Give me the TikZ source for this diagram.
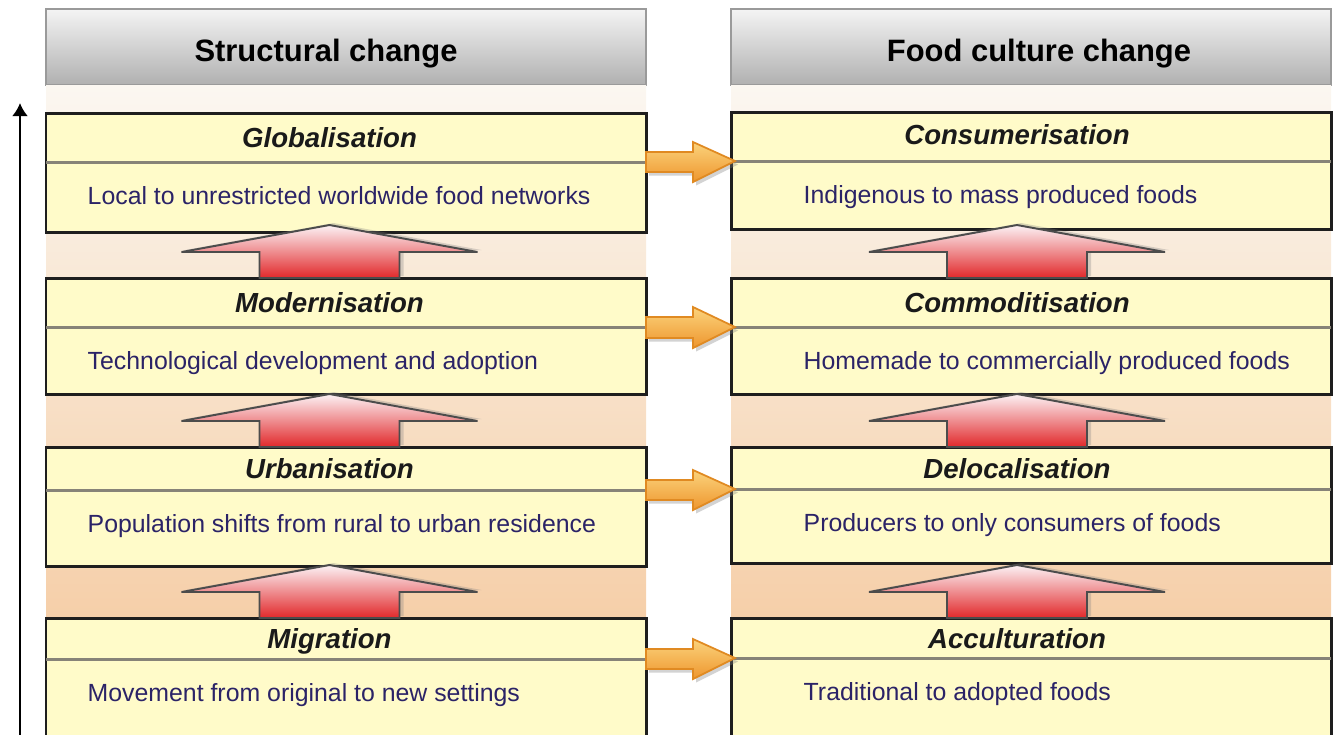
\documentclass[tikz,border=0pt]{standalone}
\usepackage{fontspec}
\setmainfont{Liberation Sans}
\usepackage{tikz}
\usetikzlibrary{positioning,shadows,arrows.meta}
\definecolor{headtop}{HTML}{F4F4F4}
\definecolor{headbot}{HTML}{B0B0B0}
\definecolor{headline}{HTML}{9A9A9A}
\definecolor{bandtop}{HTML}{FBF7F1}
\definecolor{bandbot}{HTML}{F4C597}
\definecolor{boxfill}{HTML}{FFFBC9}
\definecolor{boxline}{HTML}{1E1E1E}
\definecolor{divgray}{HTML}{878378}
\definecolor{ttltext}{HTML}{1A1A1A}
\definecolor{dsctext}{HTML}{2B2367}
\definecolor{arrtop}{HTML}{FCF2F5}
\definecolor{arrbot}{HTML}{E1282A}
\definecolor{ortop}{HTML}{FBD37C}
\definecolor{orbot}{HTML}{EE962E}
\definecolor{orline}{HTML}{E08A22}
\tikzset{head/.style={rectangle, draw=headline, line width=0.6pt, top color=headtop, bottom color=headbot,
    minimum width=60mm, minimum height=7.6mm, inner sep=0pt, outer sep=0pt},
  headtxt/.style={font=\fontsize{8.8}{10}\selectfont\bfseries, inner sep=0pt, text height=2.3mm, text depth=0mm},
  band/.style={top color=bandtop, bottom color=bandbot},
  box/.style={rectangle, draw=boxline, line width=0.85pt, fill=boxfill, minimum width=60mm, inner sep=0pt, outer sep=0pt},
  divider/.style={draw=divgray, line width=0.85pt},
  ttl/.style={font=\fontsize{7.85}{9}\selectfont\bfseries\itshape, text=ttltext, inner sep=0pt, text height=2mm, text depth=0mm},
  dsc/.style={font=\fontsize{7.07}{8.5}\selectfont, text=dsctext, inner sep=0pt, text height=1.8mm, text depth=0mm},
  uparr/.style={draw=black!70, line width=0.55pt, top color=arrtop, bottom color=arrbot,
    drop shadow={shadow xshift=0.4mm, shadow yshift=0.2mm, opacity=0.3}},
  rarr/.style={draw=orline, line width=0.5pt, top color=ortop, bottom color=orbot,
    drop shadow={shadow xshift=0.3mm, shadow yshift=-0.35mm, opacity=0.35}},
  axis/.style={line width=0.8pt, -{Latex[length=1.3mm,width=1.6mm]}}}

\begin{document}
\begin{tikzpicture}[x=0.1mm, y=-0.1mm]
                \useasboundingbox (0,0) rectangle (1342,734);
                \clip (0,0) rectangle (1342,734);
                \coordinate (axbot) at (20,750);
                \coordinate (axtop) at (20,103);

                % column heads and their bands
                \node[head] (lhead) at (346,47) {};
                \node[head] (rhead) [right=8.5mm of lhead] {};
                \node[headtxt] (lheadt) [left of=lhead, node distance=2mm, yshift=-0.3mm] {Structural change};
                \node[headtxt] (rheadt) [right of=rhead, node distance=0.8mm, yshift=-0.3mm] {Food culture change};
                \fill[band] (lhead.south west) rectangle (lhead.south east |- axbot);
                \fill[band] (rhead.south west) rectangle (rhead.south east |- axbot);

                % structural change
                \node[box, minimum height=4.9mm] (glob) [below=2.8mm of lhead] {};
                \node[box, minimum height=7mm] (globd) [below=0mm of glob] {};
                \node[box, minimum height=4.9mm] (mod) [below=4.6mm of globd] {};
                \node[box, minimum height=6.7mm] (modd) [below=0mm of mod] {};
                \node[box, minimum height=4.3mm] (urb) [below=5.3mm of modd] {};
                \node[box, minimum height=7.6mm] (urbd) [below=0mm of urb] {};
                \node[box, minimum height=4.1mm] (mig) [below=5.2mm of urbd] {};
                \node[box, minimum height=9mm] (migd) [below=0mm of mig] {};

                % food culture change
                \node[box, minimum height=4.9mm] (cons) [below=2.7mm of rhead] {};
                \node[box, minimum height=6.8mm] (consd) [below=0mm of cons] {};
                \node[box, minimum height=4.9mm] (comm) [below=4.9mm of consd] {};
                \node[box, minimum height=6.7mm] (commd) [below=0mm of comm] {};
                \node[box, minimum height=4.2mm] (deloc) [below=5.3mm of commd] {};
                \node[box, minimum height=7.4mm] (delocd) [below=0mm of deloc] {};
                \node[box, minimum height=4mm] (accu) [below=5.5mm of delocd] {};
                \node[box, minimum height=9mm] (accud) [below=0mm of accu] {};

                \path[divider] (glob.south west) edge (glob.south east)
                    (mod.south west) edge (mod.south east)
                    (urb.south west) edge (urb.south east)
                    (mig.south west) edge (mig.south east)
                    (cons.south west) edge (cons.south east)
                    (comm.south west) edge (comm.south east)
                    (deloc.south west) edge (deloc.south east)
                    (accu.south west) edge (accu.south east);

                \node[ttl] (globt) [left of=glob, node distance=1.65mm] {Globalisation};
                \node[ttl] (modt) [left of=mod, node distance=1.65mm] {Modernisation};
                \node[ttl] (urbt) [left of=urb, node distance=1.65mm] {Urbanisation};
                \node[ttl] (migt) [left of=mig, node distance=1.65mm] {Migration};
                \node[ttl] (const) [left of=cons, node distance=1.4mm, yshift=0.2mm] {Consumerisation};
                \node[ttl] (commt) [left of=comm, node distance=1.4mm] {Commoditisation};
                \node[ttl] (deloct) [left of=deloc, node distance=1.4mm] {Delocalisation};
                \node[ttl] (accut) [left of=accu, node distance=1.4mm] {Acculturation};

                \node[dsc] (globx) [below right=2.4mm and 4.1mm of glob.south west] {Local to unrestricted worldwide food networks};
                \node[dsc] (modx) [below right=2.4mm and 4.1mm of mod.south west] {Technological development and adoption};
                \node[dsc] (urbx) [below right=2.4mm and 4.1mm of urb.south west] {Population shifts from rural to urban residence};
                \node[dsc] (migx) [below right=2.4mm and 4.1mm of mig.south west] {Movement from original to new settings};
                \node[dsc] (consx) [below right=2.4mm and 7.2mm of cons.south west] {Indigenous to mass produced foods};
                \node[dsc] (commx) [below right=2.4mm and 7.2mm of comm.south west] {Homemade to commercially produced foods};
                \node[dsc] (delocx) [below right=2.4mm and 7.2mm of deloc.south west] {Producers to only consumers of foods};
                \node[dsc] (accux) [below right=2.4mm and 7.2mm of accu.south west] {Traditional to adopted foods};

                % upward block arrows
                \draw[uparr] ([xshift=-1.65mm]mod.north) ++(-70,0) -- ++(0,-26) -- ++(-78,0) -- ++(148,-27) -- ++(148,27) -- ++(-78,0) -- ++(0,26) -- cycle;
                \draw[uparr] ([xshift=-1.65mm]urb.north) ++(-70,0) -- ++(0,-26) -- ++(-78,0) -- ++(148,-27) -- ++(148,27) -- ++(-78,0) -- ++(0,26) -- cycle;
                \draw[uparr] ([xshift=-1.65mm]mig.north) ++(-70,0) -- ++(0,-26) -- ++(-78,0) -- ++(148,-27) -- ++(148,27) -- ++(-78,0) -- ++(0,26) -- cycle;
                \draw[uparr] ([xshift=-1.4mm]comm.north) ++(-70,0) -- ++(0,-26) -- ++(-78,0) -- ++(148,-27) -- ++(148,27) -- ++(-78,0) -- ++(0,26) -- cycle;
                \draw[uparr] ([xshift=-1.4mm]deloc.north) ++(-70,0) -- ++(0,-26) -- ++(-78,0) -- ++(148,-27) -- ++(148,27) -- ++(-78,0) -- ++(0,26) -- cycle;
                \draw[uparr] ([xshift=-1.4mm]accu.north) ++(-70,0) -- ++(0,-26) -- ++(-78,0) -- ++(148,-27) -- ++(148,27) -- ++(-78,0) -- ++(0,26) -- cycle;

                % sideways block arrows
                \draw[rarr] (glob.south east) ++(0,-10) -- ++(47,0) -- ++(0,-10) -- ([xshift=0.4mm]cons.south west) -- ++(-42,21) -- ++(0,-10) -- ++(-47,0) -- cycle;
                \draw[rarr] (mod.south east) ++(0,-10) -- ++(47,0) -- ++(0,-10) -- ([xshift=0.4mm]comm.south west) -- ++(-42,21) -- ++(0,-10) -- ++(-47,0) -- cycle;
                \draw[rarr] (urb.south east) ++(0,-10) -- ++(47,0) -- ++(0,-10) -- ([xshift=0.4mm]deloc.south west) -- ++(-42,21) -- ++(0,-10) -- ++(-47,0) -- cycle;
                \draw[rarr] (mig.south east) ++(0,-10) -- ++(47,0) -- ++(0,-10) -- ([xshift=0.4mm]accu.south west) -- ++(-42,21) -- ++(0,-10) -- ++(-47,0) -- cycle;

                \draw[axis] (axbot) -- (axtop);
\end{tikzpicture}
\end{document}
